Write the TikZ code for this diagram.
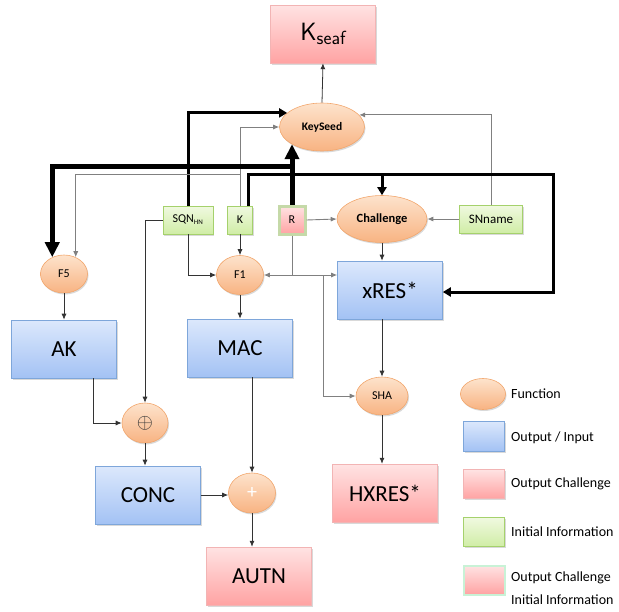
\documentclass[tikz,border=0pt]{standalone}
\usepackage{fontspec}
\setmainfont{Carlito}
\usetikzlibrary{arrows.meta,shapes.geometric,shadows,calc}

\definecolor{funcTop}{HTML}{FDE3CC}
\definecolor{funcBot}{HTML}{F8B382}
\definecolor{funcDraw}{HTML}{F2A66C}
\definecolor{ioTop}{HTML}{DCE8FC}
\definecolor{ioBot}{HTML}{A3C2F4}
\definecolor{ioDraw}{HTML}{7EA6DA}
\definecolor{chTop}{HTML}{FFE3E3}
\definecolor{chBot}{HTML}{FFA3A3}
\definecolor{chDraw}{HTML}{F2B4B4}
\definecolor{inTop}{HTML}{F0F9E0}
\definecolor{inBot}{HTML}{D0EDA6}
\definecolor{inDraw}{HTML}{A5D16C}
\definecolor{rDraw}{HTML}{C5D9A8}
\definecolor{mintDraw}{HTML}{C8F2D6}

\newcommand\fsz[1]{\fontsize{#1}{#1}\selectfont}

\tikzset{
  shadowed/.style={drop shadow={shadow xshift=1pt,shadow yshift=-1.5pt,opacity=0.25,fill=black!60}},
  func/.style={ellipse,draw=funcDraw,line width=0.6pt,top color=funcTop,bottom color=funcBot,
    inner sep=0pt,shadowed},
  iobox/.style={rectangle,draw=ioDraw,line width=0.6pt,top color=ioTop,bottom color=ioBot,
    inner sep=0pt,minimum width=105pt,minimum height=58pt,font=\fsz{23},shadowed},
  chbox/.style={rectangle,draw=chDraw,line width=0.4pt,top color=chTop,bottom color=chBot,
    inner sep=0pt,minimum width=105pt,minimum height=58pt,font=\fsz{23},shadowed},
  inbox/.style={rectangle,draw=inDraw,line width=0.6pt,top color=inTop,bottom color=inBot,
    inner sep=0pt,minimum height=28pt,font=\fsz{12},shadowed},
  thinarrow/.style={draw=black!80,line width=0.8pt,-{Latex[length=6pt,width=5pt]}},
  grayarrow/.style={draw=black!50,line width=0.9pt,-{Latex[length=6pt,width=5pt]}},
  thickarrow/.style={draw=black,line width=3pt,-{Triangle[length=8pt,width=9pt]}},
  heavyarrow/.style={draw=black,line width=5pt,-{Triangle[length=15pt,width=14pt]}},
  legendtext/.style={anchor=west,inner sep=0pt,font=\fsz{14}},
}

\begin{document}
\begin{tikzpicture}[x=1pt,y=-1pt]
\useasboundingbox (0,0) rectangle (619,611);

% ---- outputs of the key hierarchy
\node[chbox] (Kseaf) at (323,34) {\sffamily\fsz{25}K\raisebox{-4pt}{\fsz{19}seaf}};
\node[func,minimum width=85pt,minimum height=48pt,font=\bfseries\fsz{11.5}] (KeySeed) at (322,127) {KeySeed};
\node[func,minimum width=90pt,minimum height=47pt,font=\bfseries\fsz{12.5}] (Challenge) at (382,219) {Challenge};

% ---- initial information
\node[inbox,minimum width=50pt] (SQN) at (188,220) {SQN\textsubscript{\fsz{7}HN}};
\node[inbox,minimum width=25pt] (K) at (240,220) {K};
\node[rectangle,draw=rDraw,line width=3pt,top color=chTop,bottom color=chBot,inner sep=0pt,
  minimum width=26pt,minimum height=28pt,font=\fsz{12},shadowed] (R) at (292,220) {R};
\node[inbox,minimum width=63pt,font=\fsz{13}] (SNname) at (491,219) {SNname};

% ---- functions
\node[func,minimum width=47pt,minimum height=38pt,font=\fsz{12}] (F5) at (64,274) {F5};
\node[func,minimum width=47pt,minimum height=39pt,font=\fsz{12}] (F1) at (240,275) {F1};
\node[func,minimum width=46pt,minimum height=40pt] (XOR) at (145,423) {\fsz{22}\textcolor{black!80}{$\oplus$}};
\node[func,minimum width=47pt,minimum height=40pt] (Plus) at (252,493) {\fsz{20}\textcolor{white}{+}};
\node[func,minimum width=52pt,minimum height=38pt,font=\fsz{12}] (SHA) at (382,396) {SHA};

% ---- outputs / inputs
\node[iobox] (xRES) at (390,290) {xRES*};
\node[iobox] (AK) at (64,349) {AK};
\node[iobox] (MAC) at (240,348) {MAC};
\node[iobox] (CONC) at (148,495) {CONC};
\node[chbox] (AUTN) at (259,576) {AUTN};
\node[chbox] (HXRES) at (385,493) {HXRES*};

% ---- routing points
\coordinate (yHeavy) at (0,166);
\coordinate (yK) at (0,174);
\coordinate (kTurn) at (553,174);
\coordinate (rJoin) at (R.south |- F1.east);
\coordinate (shaJoin) at (323,275);

% ---- connectors into KeySeed and Kseaf
\draw[thinarrow] (KeySeed.north) -- (Kseaf.south);
\draw[thickarrow] (SQN.north) |- (KeySeed.158);
\draw[grayarrow] (K.north) |- (KeySeed.west);
\draw[grayarrow] (SNname.north) |- (KeySeed.18);
\draw[heavyarrow] (R.north) -- (R.north |- KeySeed.south west);

% ---- R and K towards F5
\draw[heavyarrow] (R.north |- yHeavy) -| (F5.125);
\draw[grayarrow] (K.north |- yK) -| (F5.55);

% ---- K towards Challenge and xRES*
\draw[thickarrow] ([xshift=8pt]K.north) |- (kTurn) |- ([yshift=-2pt]xRES.east);
\draw[thickarrow] (Challenge.north |- kTurn) -- (Challenge.north);

% ---- Challenge inputs and output
\draw[grayarrow] (R.east) -- (Challenge.west);
\draw[grayarrow] (SNname.west) -- (Challenge.east);
\draw[thinarrow] (Challenge.south) -- (Challenge.south |- xRES.north);

% ---- R below: F1, xRES*, SHA
\draw[grayarrow] (R.south) -- (rJoin) -- (F1.east);
\draw[grayarrow] (rJoin) -- (rJoin -| xRES.west);
\draw[grayarrow] (shaJoin) |- (SHA.west);

% ---- SQN and K into F1, SQN into XOR
\draw[thinarrow] (SQN.south) |- (F1.west);
\draw[thinarrow] (K.south) -- (F1.north);
\draw[thinarrow] (SQN.west) -| (XOR.north);

% ---- lower chain
\draw[thinarrow] (F5.south) -- (F5.south |- AK.north);
\draw[thinarrow] (F1.south) -- (MAC.north);
\draw[thinarrow] ([xshift=29pt]AK.south) |- (XOR.west);
\draw[thinarrow] (XOR.south) -- (XOR.south |- CONC.north);
\draw[thinarrow] (CONC.east) -- (CONC.east -| Plus.west);
\draw[thinarrow] (Plus.north |- MAC.south) -- (Plus.north);
\draw[thinarrow] (Plus.south) -- (Plus.south |- AUTN.north);
\draw[thinarrow] (xRES.south -| SHA.north) -- (SHA.north);
\draw[thinarrow] (SHA.south) -- (SHA.south |- HXRES.north);

% ---- legend
\node[func,minimum width=45pt,minimum height=31pt] (lgFunc) at (483,394) {};
\node[iobox,minimum width=41pt,minimum height=30pt] (lgIO) at (484,436) {};
\node[chbox,minimum width=41pt,minimum height=29pt] (lgCh) at (484,484) {};
\node[inbox,minimum width=41pt,minimum height=29pt] (lgIn) at (484,532) {};
\node[rectangle,draw=mintDraw,line width=2pt,top color=chTop,bottom color=chBot,inner sep=0pt,
  minimum width=41pt,minimum height=29pt,shadowed] (lgChIn) at (484,580) {};
\node[legendtext] (tFunc) at (511,394) {Function};
\node[legendtext] (tIO) at (511,438) {Output / Input};
\node[legendtext] (tCh) at (511,484) {Output Challenge};
\node[legendtext] (tIn) at (511,532) {Initial Information};
\node[legendtext,align=left,font=\fontsize{14}{23}\selectfont] (tChIn) at (511,588) {Output Challenge\\Initial Information};
\end{tikzpicture}
\end{document}
